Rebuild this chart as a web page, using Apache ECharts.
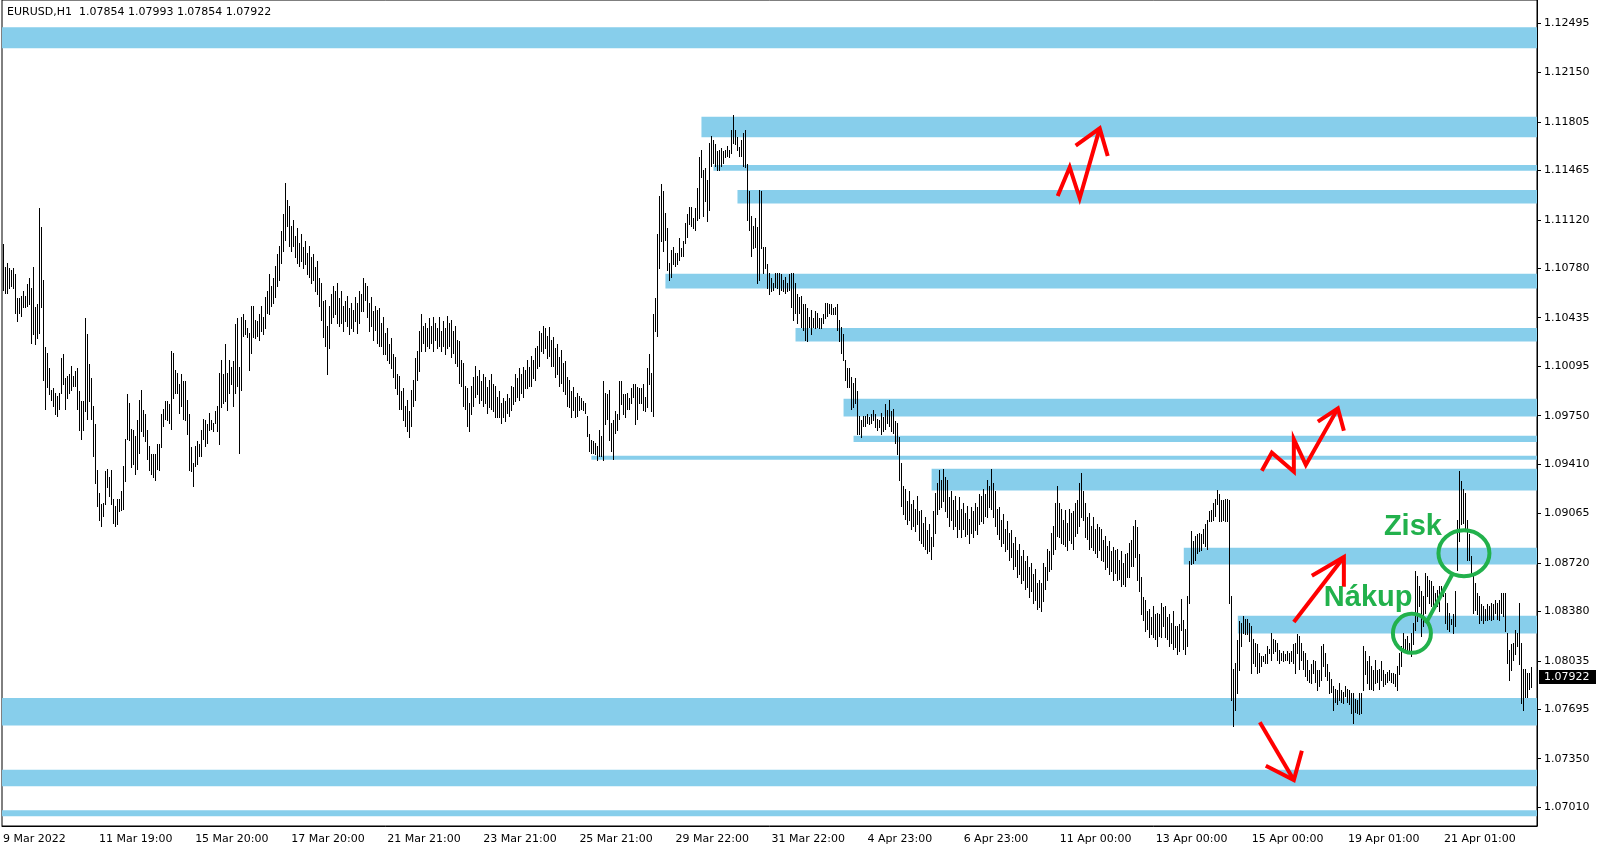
<!DOCTYPE html>
<html><head><meta charset="utf-8">
<script src="https://cdn.jsdelivr.net/npm/echarts@6/dist/echarts.min.js"></script>
<style>html,body{margin:0;padding:0;background:#fff}#c{width:1601px;height:850px}</style>
</head><body><div id="c"></div>
<script>
const symbolInfo = 'EURUSD,H1  1.07854 1.07993 1.07854 1.07922';
const lastClose = 1.07922;
const barsPerLabel = 48;
const totalSlots = 767;
const tickLabels = ['9 Mar 2022','11 Mar 19:00','15 Mar 20:00','17 Mar 20:00','21 Mar 21:00','23 Mar 21:00','25 Mar 21:00','29 Mar 22:00','31 Mar 22:00','4 Apr 23:00','6 Apr 23:00','11 Apr 00:00','13 Apr 00:00','15 Apr 00:00','19 Apr 01:00','21 Apr 01:00'];
const priceTicks = [1.12495,1.12150,1.11805,1.11465,1.11120,1.10780,1.10435,1.10095,1.09750,1.09410,1.09065,1.08720,1.08380,1.08035,1.07695,1.07350,1.07010];
const priceMin = 1.068791, priceMax = 1.126580;

const highs = [
1.1095,1.1079,1.1082,1.1078,1.1077,1.1078,1.1074,1.1057,1.1057,1.1059,
1.1062,1.1059,1.1067,1.1071,1.1064,1.1079,1.1051,1.1053,1.1120,1.1107,
1.1070,1.1023,1.1019,1.1008,1.0993,1.0994,1.0991,1.0989,1.0991,1.1015,
1.1018,1.1001,1.1003,1.1004,1.1010,1.1003,1.1006,1.1008,1.0992,1.0985,
1.0985,1.1043,1.1032,1.1011,1.1001,1.0982,1.0969,1.0937,1.0921,1.0913,
1.0914,1.0936,1.0938,1.0932,1.0937,1.0917,1.0912,1.0917,1.0917,1.0922,
1.0940,1.0959,1.0990,1.0984,1.0966,1.0965,1.0961,1.0972,1.0986,1.0993,
1.0979,1.0976,1.0965,1.0954,1.0948,1.0948,1.0948,1.0955,1.0955,1.0976,
1.0980,1.0985,1.0985,1.0983,1.1020,1.1019,1.1007,1.1005,1.0997,1.1004,
1.0999,1.0999,1.0986,1.0976,1.0953,1.0942,1.0954,1.0957,1.0955,1.0965,
1.0973,1.0972,1.0969,1.0977,1.0972,1.0970,1.0978,1.0982,1.1005,1.1014,
1.1004,1.1025,1.1005,1.1014,1.1009,1.1013,1.1039,1.1043,1.1009,1.1044,
1.1046,1.1042,1.1036,1.1033,1.1052,1.1052,1.1042,1.1041,
1.1046,1.1052,1.1044,1.1058,1.1062,1.1074,1.1066,1.1071,1.1080,1.1088,
1.1094,1.1104,1.1116,1.1138,1.1126,1.1122,1.1108,1.1112,1.1101,1.1106,
1.1096,1.1102,1.1093,1.1097,1.1089,1.1094,1.1086,1.1088,1.1079,1.1083,
1.1071,1.1068,1.1055,1.1056,1.1038,1.1052,1.1060,1.1066,1.1062,1.1068,
1.1057,1.1062,1.1052,1.1055,1.1059,1.1050,1.1054,1.1049,1.1058,1.1054,
1.1062,1.1060,1.1071,1.1068,1.1066,1.1054,1.1058,1.1048,1.1052,1.1049,
1.1050,1.1040,1.1044,1.1033,1.1036,1.1025,1.1029,1.1018,1.1016,1.1004,
1.1003,1.0992,1.0994,1.0982,1.0986,1.0978,1.0993,1.1000,1.1015,1.1020,
1.1034,1.1046,1.1038,1.1040,1.1036,1.1043,1.1038,1.1044,1.1040,1.1036,
1.1044,1.1034,1.1041,1.1036,1.1045,1.1040,1.1042,1.1034,1.1038,1.1028,
1.1027,1.1014,1.1012,1.0996,1.0994,1.0984,1.0996,1.1002,1.1010,1.1003,
1.1007,1.0999,1.1004,1.1002,1.0995,1.1000,1.1004,1.0997,1.0996,1.0988,
1.0992,1.0984,1.0987,1.0985,1.0990,1.0987,1.0996,1.0995,1.1004,1.1001,
1.1008,1.1004,1.1009,1.1007,1.1014,1.1009,1.1017,1.1014,1.1022,1.1024,
1.1034,1.1033,1.1038,1.1036,1.1031,1.1037,1.1028,1.1030,1.1022,1.1025,
1.1016,1.1021,1.1012,1.1013,1.1002,1.1000,1.0992,1.0995,1.0988,1.0991,1.0989,
1.0987,1.0985,1.0984,1.0975,1.0962,1.0958,1.0957,1.0956,1.0954,1.0965,
1.0961,1.0999,1.0991,1.0990,1.0993,1.0970,1.0972,1.0978,1.0976,1.0999,
1.0999,1.0990,1.0990,1.0991,1.0987,1.0994,1.0997,1.0997,1.0995,1.0994,
1.0994,1.0997,1.0988,1.1008,1.1018,1.1005,1.1046,1.1057,1.1102,1.1129,
1.1137,1.1132,1.1117,1.1106,1.1082,1.1091,1.1093,1.1089,1.1089,1.1099,
1.1092,1.1097,1.1110,1.1116,1.1121,1.1121,1.1113,1.1120,1.1134,1.1156,
1.1161,1.1147,1.1148,1.1140,1.1166,1.1171,1.1168,1.1165,1.1160,1.1161,
1.1162,1.1160,1.1161,1.1164,1.1161,1.1175,1.1185,1.1175,1.1170,1.1163,
1.1168,1.1173,1.1175,1.1151,1.1132,1.1115,1.1108,1.1113,1.1107,1.1133,
1.1132,1.1093,1.1093,1.1081,1.1075,1.1071,1.1068,1.1075,1.1075,1.1075,
1.1074,1.1070,1.1072,1.1068,1.1074,1.1075,1.1075,1.1068,1.1060,1.1058,
1.1059,1.1053,1.1053,1.1050,1.1044,1.1049,1.1043,1.1048,1.1047,1.1043,
1.1043,1.1046,1.1054,1.1054,1.1053,1.1053,1.1050,1.1051,1.1053,1.1042,
1.1037,1.1032,1.1014,1.1008,1.1008,1.1002,1.0998,1.1001,1.0992,1.0975,
1.0972,1.0975,1.0975,1.0976,1.0974,1.0976,1.0979,1.0976,1.0973,1.0972,
1.0977,1.0974,1.0983,1.0979,1.0986,1.0978,1.0980,1.0971,1.0970,1.0960,
1.0942,1.0926,1.0924,1.0915,1.0922,1.0913,1.0916,1.0910,1.0919,1.0908,
1.0909,1.0900,1.0904,1.0895,1.0899,1.0890,1.0908,1.0921,1.0928,1.0937,
1.0930,1.0938,1.0932,1.0930,1.0918,1.0922,1.0916,1.0919,1.0909,1.0918,
1.0910,1.0914,1.0907,1.0912,1.0903,1.0911,1.0908,1.0914,1.0911,1.0920,
1.0919,1.0924,1.0920,1.0930,1.0926,1.0938,1.0928,1.0922,1.0910,1.0911,
1.0902,1.0906,1.0896,1.0901,1.0893,1.0895,1.0886,1.0890,1.0881,1.0885,
1.0877,1.0881,1.0873,1.0877,1.0869,1.0872,1.0864,1.0868,1.0858,1.0860,
1.0858,1.0872,1.0869,1.0882,1.0880,1.0893,1.0898,1.0914,1.0926,1.0914,
1.0910,1.0902,1.0909,1.0900,1.0910,1.0907,1.0908,1.0914,1.0916,1.0928,
1.0935,1.0922,1.0914,1.0904,1.0907,1.0898,1.0904,1.0896,1.0899,1.0897,
1.0896,1.0888,1.0891,1.0884,1.0887,1.0880,1.0883,1.0881,1.0882,1.0874,
1.0880,1.0872,1.0878,1.0879,1.0886,1.0888,1.0898,1.0902,1.0897,1.0878,
1.0862,1.0848,1.0846,1.0838,1.0840,1.0834,1.0842,1.0836,1.0837,1.0836,
1.0844,1.0841,1.0842,1.0834,1.0836,1.0830,1.0838,1.0828,1.0828,1.0829,
1.0847,1.0832,1.0826,1.0849,1.0873,1.0894,1.0887,1.0891,1.0892,1.0893,
1.0892,1.0896,1.0899,1.0902,1.0908,1.0909,1.0914,1.0917,1.0923,1.0920,
1.0916,1.0916,1.0917,1.0917,1.0916,1.0849,1.0798,1.0802,1.0818,1.0831,
1.0830,1.0835,1.0833,1.0833,1.0830,1.0828,1.0819,1.0816,1.0815,1.0809,
1.0807,1.0807,1.0808,1.0814,1.0812,1.0823,1.0819,1.0818,1.0816,1.0811,
1.0809,1.0810,1.0808,1.0810,1.0809,1.0810,1.0815,1.0816,1.0822,1.0821,
1.0816,1.0810,1.0809,1.0804,1.0797,1.0801,1.0804,1.0803,1.0797,1.0797,
1.0814,1.0815,1.0809,1.0801,1.0796,1.0791,1.0786,1.0784,1.0783,1.0788,
1.0783,1.0782,1.0786,1.0784,1.0783,1.0781,1.0781,1.0777,1.0776,1.0781,
1.0781,1.0814,1.0810,1.0803,1.0807,1.0800,1.0797,1.0804,1.0797,1.0798,
1.0803,1.0797,1.0794,1.0796,1.0797,1.0795,1.0795,1.0794,1.0800,1.0809,
1.0814,1.0823,1.0819,1.0821,1.0816,1.0823,1.0830,1.0866,1.0863,1.0856,
1.0852,1.0849,1.0865,1.0863,1.0860,1.0859,1.0856,1.0851,1.0853,1.0856,
1.0856,1.0853,1.0851,1.0844,1.0837,1.0833,1.0836,1.0852,1.0902,1.0936,
1.0929,1.0924,1.0921,1.0902,1.0892,1.0877,1.0864,1.0858,1.0851,1.0849,
1.0843,1.0842,1.0840,1.0843,1.0842,1.0844,1.0843,1.0846,1.0844,1.0846,
1.0851,1.0851,1.0851,1.0823,1.0811,1.0815,1.0816,1.0825,1.0823,1.0844,
1.0816,1.0798,1.0798,1.0795,1.0795,1.0799
];
const lows = [
1.1063,1.1061,1.1061,1.1064,1.1066,1.1064,1.1047,1.1041,1.1047,1.1045,
1.1051,1.1051,1.1052,1.1053,1.1026,1.1032,1.1025,1.1029,1.1033,1.1051,
1.1000,1.0980,1.0995,1.0990,1.0986,1.0982,1.0976,1.0975,1.0980,1.0991,
1.0997,1.0980,1.0987,1.0991,1.0993,1.0996,1.0996,1.0980,1.0965,1.0959,
1.0965,1.0978,1.0973,1.0985,1.0973,1.0947,1.0928,1.0912,1.0902,1.0898,
1.0905,1.0913,1.0925,1.0919,1.0913,1.0900,1.0898,1.0899,1.0908,1.0909,
1.0910,1.0929,1.0959,1.0958,1.0939,1.0941,1.0934,1.0938,1.0949,1.0964,
1.0961,1.0957,1.0945,1.0937,1.0934,1.0932,1.0930,1.0938,1.0937,1.0953,
1.0968,1.0973,1.0972,1.0970,1.0966,1.0987,1.0991,1.0991,1.0977,1.0982,
1.0973,1.0972,1.0962,1.0937,1.0936,1.0926,1.0940,1.0941,1.0947,1.0947,
1.0959,1.0954,1.0956,1.0965,1.0966,1.0964,1.0970,1.0964,1.0955,1.0981,
1.0984,1.0985,1.0979,1.0991,1.0997,1.0982,1.0991,1.0996,1.0949,1.0993,
1.1031,1.1032,1.1030,1.1007,1.1019,1.1030,1.1029,1.1031,
1.1028,1.1034,1.1032,1.1036,1.1047,1.1046,1.1052,1.1054,1.1058,1.1066,
1.1070,1.1082,1.1090,1.1098,1.1108,1.1094,1.1090,1.1094,1.1086,1.1082,
1.1080,1.1083,1.1078,1.1081,1.1074,1.1072,1.1068,1.1070,1.1062,1.1060,
1.1052,1.1042,1.1030,1.1024,1.1004,1.1022,1.1040,1.1044,1.1046,1.1040,
1.1038,1.1040,1.1034,1.1041,1.1038,1.1032,1.1036,1.1034,1.1041,1.1033,
1.1040,1.1048,1.1048,1.1056,1.1044,1.1034,1.1038,1.1028,1.1035,1.1026,
1.1024,1.1024,1.1018,1.1018,1.1014,1.1012,1.1008,1.1002,1.0994,1.0990,
1.0980,1.0980,1.0972,1.0968,1.0964,1.0960,1.0968,1.0982,1.0986,1.1000,
1.1006,1.1020,1.1026,1.1020,1.1024,1.1022,1.1026,1.1020,1.1028,1.1022,
1.1024,1.1020,1.1024,1.1018,1.1022,1.1024,1.1016,1.1019,1.1012,1.1010,
1.0998,1.0996,1.0982,1.0980,1.0968,1.0964,1.0976,1.0982,1.0988,1.0990,
1.0984,1.0986,1.0982,1.0984,1.0977,1.0981,1.0980,1.0978,1.0974,1.0974,
1.0974,1.0970,1.0974,1.0971,1.0977,1.0975,1.0979,1.0983,1.0985,1.0988,
1.0986,1.0991,1.0988,1.0994,1.0994,1.0996,1.0996,1.1001,1.1000,1.1008,
1.1010,1.1020,1.1019,1.1022,1.1015,1.1017,1.1010,1.1010,1.1002,1.1004,
1.0996,1.0998,1.0992,1.0990,1.0982,1.0981,1.0974,1.0979,1.0974,1.0975,1.0979,
1.0980,1.0979,1.0977,1.0961,1.0950,1.0949,1.0949,1.0948,1.0944,1.0947,
1.0947,1.0944,1.0969,1.0973,1.0958,1.0950,1.0945,1.0963,1.0965,1.0973,
1.0983,1.0976,1.0974,1.0980,1.0980,1.0984,1.0988,1.0969,1.0973,1.0984,
1.0984,1.0979,1.0978,1.0981,1.0997,1.0978,1.0975,1.1034,1.1031,1.1078,
1.1097,1.1090,1.1098,1.1077,1.1070,1.1072,1.1081,1.1080,1.1081,1.1084,
1.1087,1.1087,1.1096,1.1100,1.1109,1.1108,1.1106,1.1105,1.1112,1.1113,
1.1142,1.1115,1.1125,1.1111,1.1119,1.1150,1.1152,1.1150,1.1147,1.1147,
1.1150,1.1152,1.1156,1.1157,1.1156,1.1159,1.1166,1.1165,1.1161,1.1157,
1.1157,1.1150,1.1149,1.1112,1.1105,1.1087,1.1092,1.1093,1.1068,1.1070,
1.1092,1.1075,1.1078,1.1064,1.1060,1.1062,1.1063,1.1065,1.1064,1.1060,
1.1063,1.1062,1.1061,1.1062,1.1063,1.1051,1.1042,1.1047,1.1040,1.1047,
1.1037,1.1035,1.1028,1.1027,1.1037,1.1032,1.1037,1.1036,1.1037,1.1036,
1.1036,1.1040,1.1043,1.1045,1.1047,1.1046,1.1046,1.1046,1.1035,1.1027,
1.1019,1.1014,1.1000,1.0995,1.0995,1.0980,1.0981,1.0984,1.0962,1.0962,
1.0960,1.0968,1.0968,1.0970,1.0969,1.0970,1.0972,1.0967,1.0965,1.0967,
1.0962,1.0964,1.0966,1.0970,1.0968,1.0964,1.0963,1.0956,1.0948,1.0930,
1.0912,1.0906,1.0903,1.0899,1.0902,1.0896,1.0898,1.0894,1.0899,1.0888,
1.0886,1.0884,1.0882,1.0879,1.0880,1.0875,1.0884,1.0893,1.0906,1.0910,
1.0911,1.0915,1.0908,1.0904,1.0898,1.0902,1.0896,1.0898,1.0890,1.0896,
1.0890,1.0896,1.0891,1.0892,1.0886,1.0893,1.0890,1.0895,1.0892,1.0899,
1.0901,1.0900,1.0905,1.0904,1.0911,1.0910,1.0904,1.0898,1.0892,1.0889,
1.0884,1.0886,1.0880,1.0882,1.0874,1.0876,1.0868,1.0870,1.0862,1.0864,
1.0858,1.0860,1.0854,1.0855,1.0848,1.0852,1.0844,1.0846,1.0840,1.0841,
1.0838,1.0845,1.0854,1.0860,1.0866,1.0868,1.0878,1.0882,1.0891,1.0890,
1.0886,1.0885,1.0884,1.0881,1.0888,1.0886,1.0882,1.0891,1.0893,1.0898,
1.0904,1.0902,1.0890,1.0889,1.0882,1.0883,1.0881,1.0879,1.0876,1.0881,
1.0874,1.0873,1.0868,1.0869,1.0864,1.0866,1.0860,1.0865,1.0860,1.0861,
1.0856,1.0857,1.0856,1.0862,1.0862,1.0870,1.0870,1.0876,1.0860,1.0852,
1.0836,1.0832,1.0824,1.0826,1.0820,1.0822,1.0820,1.0819,1.0814,1.0821,
1.0820,1.0828,1.0820,1.0819,1.0814,1.0816,1.0812,1.0813,1.0808,1.0810,
1.0825,1.0812,1.0808,1.0814,1.0844,1.0871,1.0872,1.0874,1.0879,1.0880,
1.0881,1.0886,1.0884,1.0882,1.0901,1.0901,1.0902,1.0905,1.0913,1.0901,
1.0901,1.0902,1.0901,1.0901,1.0844,1.0776,1.0758,1.0769,1.0781,1.0797,
1.0814,1.0823,1.0822,1.0822,1.0817,1.0795,1.0802,1.0800,1.0795,1.0796,
1.0800,1.0803,1.0802,1.0802,1.0809,1.0804,1.0809,1.0810,1.0804,1.0802,
1.0804,1.0803,1.0804,1.0804,1.0802,1.0803,1.0802,1.0795,1.0809,1.0798,
1.0804,1.0798,1.0793,1.0790,1.0789,1.0788,1.0795,1.0789,1.0783,1.0786,
1.0790,1.0800,1.0793,1.0790,1.0781,1.0782,1.0769,1.0775,1.0773,1.0776,
1.0775,1.0774,1.0779,1.0775,1.0773,1.0767,1.0760,1.0768,1.0767,1.0766,
1.0767,1.0783,1.0794,1.0788,1.0784,1.0784,1.0783,1.0788,1.0789,1.0784,
1.0790,1.0786,1.0787,1.0789,1.0790,1.0789,1.0788,1.0786,1.0783,1.0794,
1.0800,1.0811,1.0810,1.0809,1.0810,1.0807,1.0815,1.0825,1.0831,1.0842,
1.0821,1.0828,1.0837,1.0849,1.0844,1.0842,1.0840,1.0842,1.0842,1.0838,
1.0849,1.0849,1.0830,1.0826,1.0824,1.0829,1.0823,1.0828,1.0867,1.0887,
1.0899,1.0900,1.0895,1.0874,1.0874,1.0864,1.0837,1.0839,1.0836,1.0830,
1.0832,1.0830,1.0832,1.0832,1.0833,1.0832,1.0833,1.0837,1.0833,1.0832,
1.0837,1.0835,1.0824,1.0802,1.0790,1.0797,1.0804,1.0808,1.0814,1.0801,
1.0774,1.0769,1.0778,1.0778,1.0784,1.0785
];

// Support / resistance zones (start bar index, -1 = from left edge)
const zoneStart  = [-1, 349, 355, 367, 331, 396, 420, 425, 294, 464, 590, 617, -1, -1, -1];
const zoneTop    = [1.12467,1.11842,1.11504,1.11329,1.10742,1.10364,1.09868,1.09609,1.09469,1.09378,1.08826,1.08350,1.07775,1.07273,1.06990];
const zoneBottom = [1.12320,1.11698,1.11464,1.11234,1.10639,1.10268,1.09744,1.09565,1.09441,1.09226,1.08709,1.08226,1.07583,1.07157,1.06947];

// Hand-drawn annotations, anchored at [bar index, price]
const arrow1Path = [[526.9,1.11287],[533.2,1.11488],[538.2,1.11271],[548.0,1.11760]];
const arrow1Head = [[536.0,1.11639],[548.0,1.11760],[551.5,1.11567]];
const arrow2Path = [[629.4,1.09365],[634.4,1.09491],[644.9,1.09358],[644.9,1.09585],[651.0,1.09405],[667.2,1.09801]];
const arrow2Head = [[656.9,1.09708],[667.2,1.09801],[670.2,1.09645]];
const arrow3Path = [[645.2,1.08306],[670.2,1.08761]];
const arrow3Head = [[653.9,1.08630],[670.2,1.08761],[670.2,1.08553]];
const arrow4Path = [[628.2,1.07605],[645.2,1.07201]];
const arrow4Head = [[631.0,1.07301],[645.2,1.07201],[649.4,1.07406]];
const buyCircle = [704.2,1.08227];
const profitCircle = [729.9,1.08787];
const linkLine = [[711.0,1.08297],[723.5,1.08635]];
const buyLabel = {text:'Nákup', at:[659.5,1.08474]};
const profitLabel = {text:'Zisk', at:[689.5,1.08973]};

const categories = [];
for (let i = 0; i < totalSlots; i++) categories.push(i % barsPerLabel === 0 ? (tickLabels[i / barsPerLabel] || '') : '');
const barData = highs.map((h, i) => [i, h, lows[i]]);
const zoneData = zoneStart.map((s, k) => [Math.max(s, 0), zoneTop[k], zoneBottom[k], s < 0 ? 1 : 0]);

const RED = '#ff0000', GREEN = '#22b14c', BLUE = '#87ceeb';
const chart = echarts.init(document.getElementById('c'), null, {renderer: 'canvas'});
const tickFilter = (idx) => idx % barsPerLabel === 0 && idx < tickLabels.length * barsPerLabel;
const header = {type: 'text', left: 7, top: 7, style: {text: symbolInfo, font: '11px "DejaVu Sans"', fill: '#000'}};

chart.setOption({
  animation: false,
  backgroundColor: '#ffffff',
  grid: {left: 2, right: 64, top: 0, bottom: 24, show: true, borderColor: '#000', borderWidth: 1},
  xAxis: {
    type: 'category', data: categories, boundaryGap: true,
    axisLine: {lineStyle: {color: '#000', width: 1}},
    axisTick: {interval: tickFilter, alignWithLabel: true, length: 4, lineStyle: {color: '#000'}},
    axisLabel: {interval: tickFilter, align: 'left', margin: 8, color: '#000', fontSize: 11, fontFamily: 'DejaVu Sans'},
    splitLine: {show: false}
  },
  yAxis: {
    type: 'value', position: 'right', min: priceMin, max: priceMax,
    axisLine: {show: true, lineStyle: {color: '#000', width: 1}},
    axisTick: {show: true, customValues: priceTicks, length: 4, lineStyle: {color: '#000'}},
    axisLabel: {customValues: priceTicks, margin: 7, color: '#000', fontSize: 11, fontFamily: 'DejaVu Sans',
      formatter: (v) => v.toFixed(5)},
    splitLine: {show: false}
  },
  graphic: [header],
  series: [
    {
      type: 'custom', name: 'zones', z: 1, data: zoneData, encode: {x: 0, y: [1, 2]},
      renderItem: (params, api) => {
        const cs = params.coordSys;
        const t = api.coord([api.value(0), api.value(1)]);
        const b = api.coord([api.value(0), api.value(2)]);
        const x0 = api.value(3) ? cs.x : t[0];
        return {type: 'rect', shape: {x: x0, y: t[1], width: cs.x + cs.width - x0, height: b[1] - t[1]}, style: {fill: BLUE}};
      }
    },
    {
      type: 'custom', name: 'EURUSD', z: 2, data: barData, encode: {x: 0, y: [1, 2]},
      renderItem: (params, api) => {
        const i = api.value(0);
        const top = api.coord([i, api.value(1)]);
        const bot = api.coord([i, api.value(2)]);
        const x = Math.floor(top[0]) + 0.5;
        return {type: 'line', shape: {x1: x, y1: Math.round(top[1]), x2: x, y2: Math.round(bot[1]) + 1}, style: {stroke: '#000', lineWidth: 1}};
      }
    },
    {
      type: 'custom', name: 'annotations', z: 3, data: [[0, lastClose]], encode: {x: 0, y: 1},
      renderItem: (params, api) => {
        const pts = (arr) => arr.map(p => api.coord(p));
        const redLine = (arr) => ({type: 'polyline', shape: {points: pts(arr)}, style: {stroke: RED, lineWidth: 4, fill: null, lineJoin: 'miter'}});
        const c1 = api.coord(buyCircle), c2 = api.coord(profitCircle);
        const t1 = api.coord(buyLabel.at), t2 = api.coord(profitLabel.at);
        const l0 = api.coord(linkLine[0]), l1 = api.coord(linkLine[1]);
        const font = 'bold 29px "Liberation Sans"';
        return {type: 'group', children: [
          redLine(arrow1Path), redLine(arrow1Head),
          redLine(arrow2Path), redLine(arrow2Head),
          redLine(arrow3Path), redLine(arrow3Head),
          redLine(arrow4Path), redLine(arrow4Head),
          {type: 'line', shape: {x1: l0[0], y1: l0[1], x2: l1[0], y2: l1[1]}, style: {stroke: GREEN, lineWidth: 4}},
          {type: 'ellipse', shape: {cx: c1[0], cy: c1[1], rx: 19, ry: 19.5}, style: {stroke: GREEN, lineWidth: 4, fill: null}},
          {type: 'ellipse', shape: {cx: c2[0], cy: c2[1], rx: 25.5, ry: 23}, style: {stroke: GREEN, lineWidth: 4, fill: null}},
          {type: 'text', x: t1[0], y: t1[1], style: {text: buyLabel.text, fill: GREEN, font: font, textVerticalAlign: 'middle', verticalAlign: 'middle'}},
          {type: 'text', x: t2[0], y: t2[1], style: {text: profitLabel.text, fill: GREEN, font: font, textVerticalAlign: 'middle', verticalAlign: 'middle'}}
        ]};
      }
    }
  ]
});

// current price tag on the price scale
const yPx = chart.convertToPixel({yAxisIndex: 0}, lastClose);
chart.setOption({graphic: [
  header,
  {type: 'rect', shape: {x: 1539, y: Math.round(yPx) - 7, width: 57, height: 14}, style: {fill: '#000'}},
  {type: 'text', x: 1544, y: Math.round(yPx), style: {text: lastClose.toFixed(5), fill: '#fff', font: '11px "DejaVu Sans"', textVerticalAlign: 'middle', verticalAlign: 'middle'}}
]});
</script>
</body></html>
